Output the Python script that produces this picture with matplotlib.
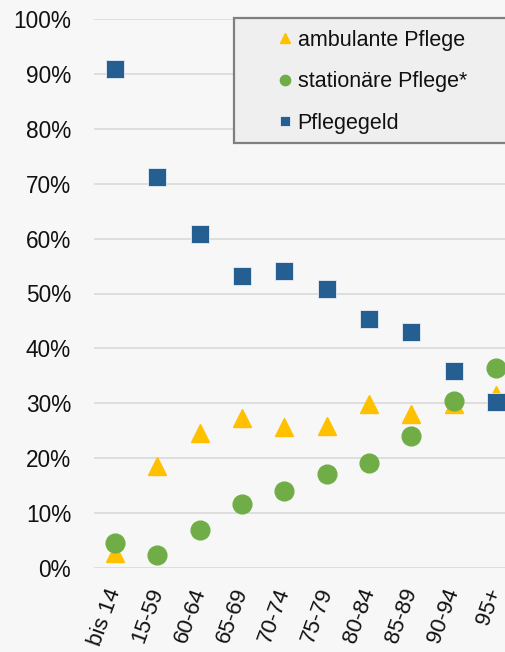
import matplotlib.pyplot as plt
from matplotlib.patches import Rectangle

# Daten
altersgruppen = ['bis 14', '15-59', '60-64', '65-69', '70-74', '75-79', '80-84', '85-89', '90-94', '95+']
ambulante_pflege = [0.027, 0.186, 0.246, 0.274, 0.257, 0.259, 0.299, 0.280, 0.298, 0.315]
stationaere_pflege = [0.045, 0.024, 0.070, 0.117, 0.140, 0.172, 0.191, 0.240, 0.304, 0.365]
pflegegeld = [0.909, 0.713, 0.608, 0.531, 0.541, 0.508, 0.453, 0.430, 0.358, 0.303]
yticks = [0, 0.1, 0.2, 0.3, 0.4, 0.5, 0.6, 0.7, 0.8, 0.9, 1.0]

bg = '#f7f7f7'
plt.rcParams['font.family'] = ['Liberation Sans', 'DejaVu Sans']

W, H = 505, 652
fig = plt.figure(figsize=(W / 100, H / 100), dpi=100, facecolor=bg)
# Zeichenfläche rechts über den Bildrand hinaus (abgeschnitten wie im Original)
ax = fig.add_axes([94 / W, (H - 568) / H, 423 / W, 549 / H])
ax.set_facecolor(bg)

x = range(len(altersgruppen))
ax.plot(x, ambulante_pflege, '^', color='#ffc000', ms=12.5, mec='#ffc000',
        label='ambulante Pflege', clip_on=False, zorder=3)
ax.plot(x, stationaere_pflege, 'o', color='#70ad47', ms=13.5, mec='#70ad47',
        label='stationäre Pflege*', clip_on=False, zorder=4)
ax.plot(x, pflegegeld, 's', color='#255e91', ms=12.5, mec='#e8eef5', mew=0.6,
        label='Pflegegeld', clip_on=False, zorder=5)

ax.set_xlim(-0.5, len(altersgruppen) - 0.5)
ax.set_ylim(0, 1)
ax.set_yticks(yticks)
ax.set_yticklabels([f'{int(round(v * 100))}%' for v in yticks], fontsize=16.3, color='#111111')
ax.set_xticks(list(x))
ax.set_xticklabels(altersgruppen, fontsize=16, rotation=70, ha='right', va='center',
                   rotation_mode='anchor', color='#111111')
ax.tick_params(axis='both', length=0)
ax.tick_params(axis='y', pad=16.5)
ax.tick_params(axis='x', pad=15)
ax.grid(axis='y', color='#d9d9d9', linewidth=1.2)
ax.set_axisbelow(True)
for s in ax.spines.values():
    s.set_visible(False)

# Legendenrahmen
box = Rectangle((234 / W, (H - 142.5) / H), 300 / W, 125 / H, transform=fig.transFigure,
                facecolor='#efefef', edgecolor='#7f7f7f', linewidth=1.6, zorder=6)
fig.add_artist(box)

leg = fig.legend(loc='upper left', bbox_to_anchor=(276 / W, (H - 30) / H),
                 frameon=False, fontsize=15.5, markerscale=0.55, numpoints=1,
                 handlelength=0.8, handletextpad=0.2, borderpad=0, borderaxespad=0,
                 labelspacing=0.95)
leg.set_zorder(7)
for t in leg.get_texts():
    t.set_color('#111111')

fig.savefig('out.png', dpi=100, facecolor=bg)
